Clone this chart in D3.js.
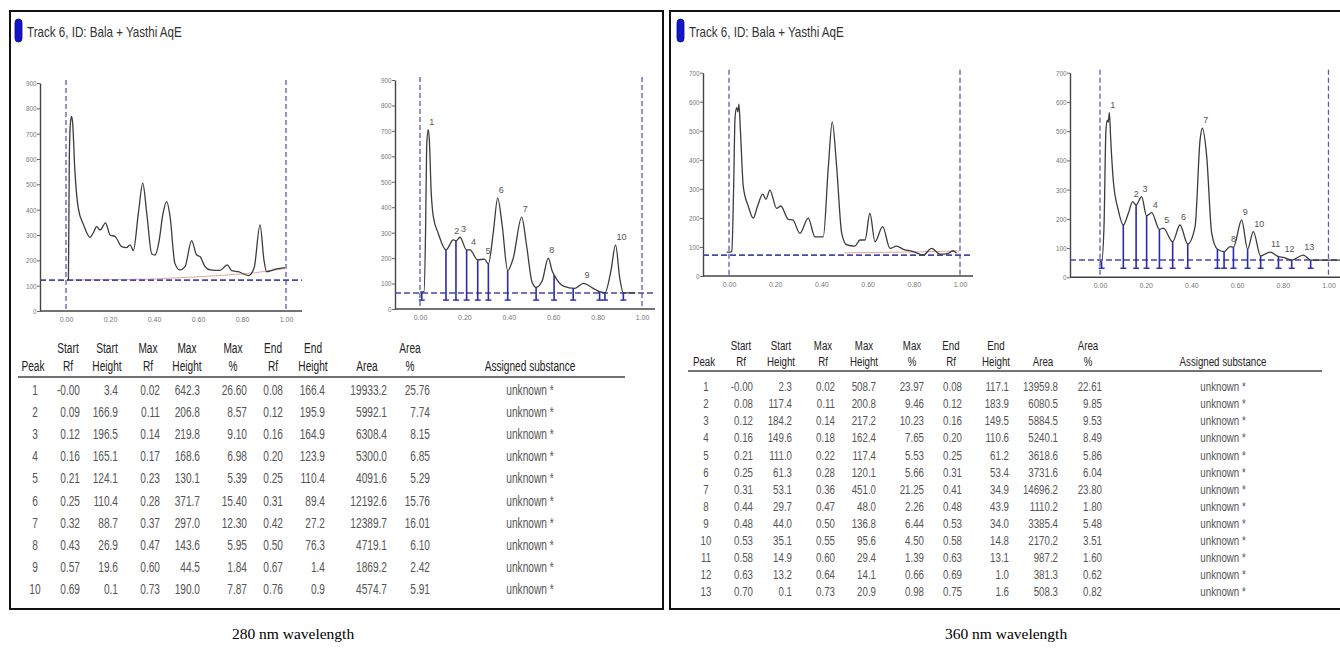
<!DOCTYPE html>
<html>
<head>
<meta charset="utf-8">
<script src="https://cdn.jsdelivr.net/npm/d3@7"></script>
<style>
  html, body { margin: 0; padding: 0; background: #fff; }
  svg { display: block; }
</style>
</head>
<body>
<svg id="fig" width="1340" height="649"></svg>
<script>
// ---- traces: [plot Rf, height (AU)] ----
var raw280 = [[0.005,122],[0.011,125],[0.015,600],[0.02,740],[0.025,768],[0.03,745],[0.04,560],[0.056,405],[0.08,340],[0.109,291],[0.125,310],[0.139,333],[0.155,320],[0.18,348],[0.2,300],[0.223,294],[0.253,254],[0.275,250],[0.291,261],[0.306,238],[0.329,386],[0.349,505],[0.367,386],[0.39,225],[0.405,221],[0.424,281],[0.44,380],[0.458,432],[0.473,373],[0.495,188],[0.518,162],[0.541,175],[0.571,278],[0.594,221],[0.609,215],[0.632,175],[0.655,162],[0.7,160],[0.733,182],[0.753,159],[0.783,155],[0.829,140],[0.855,170],[0.882,340],[0.9,200],[0.912,155],[0.957,166],[0.995,171]]
var pink280 = [[0,122],[0.4,126],[0.7,140],[0.85,150],[1.0,168]]
var cor280 = [[0.0,66],[0.018,68],[0.025,300],[0.03,640],[0.037,705],[0.042,665],[0.05,468],[0.06,363],[0.082,298],[0.117,232],[0.15,272],[0.162,268],[0.18,282],[0.21,232],[0.225,232],[0.26,193],[0.29,196],[0.308,177],[0.33,300],[0.35,436],[0.37,330],[0.395,151],[0.42,200],[0.458,361],[0.48,250],[0.505,105],[0.523,85],[0.55,110],[0.578,200],[0.595,150],[0.604,134],[0.646,90],[0.698,81],[0.736,101],[0.78,81],[0.809,68],[0.833,64],[0.86,150],[0.881,252],[0.9,120],[0.916,63],[0.97,63]]
var bounds280 = [[0.008,66],[0.117,232],[0.162,268],[0.21,232],[0.26,193],[0.308,177],[0.395,151],[0.523,85],[0.604,134],[0.69,82],[0.809,68],[0.833,64],[0.916,63]]
var peaks280 = [[0.037,705],[0.15,275],[0.18,282],[0.225,232],[0.29,196],[0.35,436],[0.458,361],[0.578,200],[0.736,101],[0.881,252]]

var raw360 = [[-0.01,82],[0.005,82],[0.012,85],[0.02,300],[0.026,543],[0.033,580],[0.038,565],[0.043,592],[0.05,491],[0.062,307],[0.084,239],[0.105,199],[0.123,239],[0.146,282],[0.16,264],[0.177,296],[0.206,233],[0.224,241],[0.257,195],[0.276,193],[0.307,147],[0.343,199],[0.372,135],[0.408,135],[0.43,376],[0.447,531],[0.466,376],[0.488,147],[0.51,107],[0.545,103],[0.567,124],[0.589,124],[0.61,216],[0.632,118],[0.665,170],[0.697,95],[0.726,103],[0.755,92],[0.798,84],[0.841,72],[0.877,95],[0.913,75],[0.949,78],[0.971,87],[0.985,78]]
var pink360 = [[0.5,80],[0.75,82],[1.0,86]]
var cor360 = [[0.0,55],[0.007,53],[0.0175,173],[0.026,504],[0.032,538],[0.036,530],[0.041,563],[0.047,470],[0.058,333],[0.08,230],[0.102,179],[0.124,219],[0.143,259],[0.158,247],[0.182,276],[0.204,210],[0.226,221],[0.26,164],[0.277,168],[0.318,122],[0.35,179],[0.384,114],[0.416,173],[0.438,470],[0.448,510],[0.467,413],[0.489,150],[0.514,96],[0.543,88],[0.569,105],[0.584,103],[0.62,196],[0.646,96],[0.671,156],[0.703,73],[0.744,86],[0.781,71],[0.803,68],[0.839,59],[0.89,76],[0.922,59],[1.06,59]]
var bounds360 = [[0.007,53],[0.102,179],[0.158,247],[0.204,210],[0.26,164],[0.318,122],[0.384,114],[0.514,96],[0.543,88],[0.584,103],[0.646,96],[0.703,73],[0.781,71],[0.839,59],[0.922,59]]
var peaks360 = [[0.041,563],[0.143,259],[0.182,276],[0.226,221],[0.277,168],[0.35,179],[0.448,510],[0.569,105],[0.62,196],[0.671,156],[0.744,86],[0.803,68],[0.89,76]]

var xTicks = [0, 0.2, 0.4, 0.6, 0.8, 1.0]

// ---- peak tables ----
var t280 = {
  peak:     ["1","2","3","4","5","6","7","8","9","10"],
  startRf:  ["-0.00","0.09","0.12","0.16","0.21","0.25","0.32","0.43","0.57","0.69"],
  startH:   ["3.4","166.9","196.5","165.1","124.1","110.4","88.7","26.9","19.6","0.1"],
  maxRf:    ["0.02","0.11","0.14","0.17","0.23","0.28","0.37","0.47","0.60","0.73"],
  maxH:     ["642.3","206.8","219.8","168.6","130.1","371.7","297.0","143.6","44.5","190.0"],
  maxPct:   ["26.60","8.57","9.10","6.98","5.39","15.40","12.30","5.95","1.84","7.87"],
  endRf:    ["0.08","0.12","0.16","0.20","0.25","0.31","0.42","0.50","0.67","0.76"],
  endH:     ["166.4","195.9","164.9","123.9","110.4","89.4","27.2","76.3","1.4","0.9"],
  area:     ["19933.2","5992.1","6308.4","5300.0","4091.6","12192.6","12389.7","4719.1","1869.2","4574.7"],
  areaPct:  ["25.76","7.74","8.15","6.85","5.29","15.76","16.01","6.10","2.42","5.91"]
}
var t360 = {
  peak:     ["1","2","3","4","5","6","7","8","9","10","11","12","13"],
  startRf:  ["-0.00","0.08","0.12","0.16","0.21","0.25","0.31","0.44","0.48","0.53","0.58","0.63","0.70"],
  startH:   ["2.3","117.4","184.2","149.6","111.0","61.3","53.1","29.7","44.0","35.1","14.9","13.2","0.1"],
  maxRf:    ["0.02","0.11","0.14","0.18","0.22","0.28","0.36","0.47","0.50","0.55","0.60","0.64","0.73"],
  maxH:     ["508.7","200.8","217.2","162.4","117.4","120.1","451.0","48.0","136.8","95.6","29.4","14.1","20.9"],
  maxPct:   ["23.97","9.46","10.23","7.65","5.53","5.66","21.25","2.26","6.44","4.50","1.39","0.66","0.98"],
  endRf:    ["0.08","0.12","0.16","0.20","0.25","0.31","0.41","0.48","0.53","0.58","0.63","0.69","0.75"],
  endH:     ["117.1","183.9","149.5","110.6","61.2","53.4","34.9","43.9","34.0","14.8","13.1","1.0","1.6"],
  area:     ["13959.8","6080.5","5884.5","5240.1","3618.6","3731.6","14696.2","1110.2","3385.4","2170.2","987.2","381.3","508.3"],
  areaPct:  ["22.61","9.85","9.53","8.49","5.86","6.04","23.80","1.80","5.48","3.51","1.60","0.62","0.82"]
}
var substance = "unknown *"
var titleText = "Track 6, ID: Bala + Yasthi AqE"
var captions = ["280 nm wavelength", "360 nm wavelength"]

var cols = [
  {key:"peak",    h1:"",      h2:"Peak"},
  {key:"startRf", h1:"Start", h2:"Rf"},
  {key:"startH",  h1:"Start", h2:"Height"},
  {key:"maxRf",   h1:"Max",   h2:"Rf"},
  {key:"maxH",    h1:"Max",   h2:"Height"},
  {key:"maxPct",  h1:"Max",   h2:"%"},
  {key:"endRf",   h1:"End",   h2:"Rf"},
  {key:"endH",    h1:"End",   h2:"Height"},
  {key:"area",    h1:"",      h2:"Area"},
  {key:"areaPct", h1:"Area",  h2:"%"},
  {key:"subst",   h1:"",      h2:"Assigned substance"}
]

var svg = d3.select("#fig")
var FONT = "'Liberation Sans', Arial, sans-serif"

function txt(g, x, y, s, o) {
  o = o || {}
  return g.append("text")
    .attr("transform", "translate(" + x + "," + y + ") scale(" + (o.sx || 1) + ",1)")
    .attr("text-anchor", o.anchor || "start")
    .attr("dominant-baseline", "central")
    .style("font-family", o.font || FONT)
    .style("font-size", (o.size || 10) + "px")
    .style("fill", o.fill || "#333")
    .text(s)
}

function drawChart(g, c) {
  var x = d3.scaleLinear().domain([0, 1]).range([c.x0, c.x1]),
      y = d3.scaleLinear().domain([0, c.yMax]).range([c.y0, c.yTop])

  // vertical dashed application/front lines
  g.selectAll(".vl").data([0, 1]).enter().append("line")
    .attr("x1", d => x(d)).attr("x2", d => x(d))
    .attr("y1", c.yTop - 3).attr("y2", c.y0)
    .attr("stroke", "#5a5ab8").attr("stroke-width", 1.3).attr("stroke-dasharray", "5,3")

  // y axis
  var ya = g.append("g").attr("transform", "translate(" + c.axL + ",0)")
    .call(d3.axisLeft(y).tickValues(d3.range(0, c.yMax + 1, 100)).tickSize(3).tickSizeOuter(0).tickPadding(1))
  ya.select(".domain").attr("stroke", "#444").attr("stroke-width", 1.4)
  ya.selectAll(".tick line").attr("stroke", "#666")
  ya.selectAll(".tick text").style("font-family", FONT).style("font-size", "7.5px").style("fill", "#777")
    .attr("transform", "scale(0.85,1)")

  // x axis
  var xa = g.append("g").attr("transform", "translate(0," + c.y0 + ")")
    .call(d3.axisBottom(x).tickValues(xTicks).tickFormat(d3.format(".2f")).tickSize(0).tickPadding(6))
  xa.select(".domain").remove()
  xa.selectAll(".tick text").style("font-family", FONT).style("font-size", "7px").style("fill", "#777")
  g.append("line").attr("x1", c.axL).attr("x2", c.axR).attr("y1", c.y0).attr("y2", c.y0)
    .attr("stroke", "#444").attr("stroke-width", 1.4)

  // pink baseline
  if (c.pink) {
    g.append("path").datum(c.pink)
      .attr("d", d3.line().x(d => x(d[0])).y(d => y(d[1])))
      .attr("fill", "none").attr("stroke", "#e6a3a3").attr("stroke-width", 1)
  }

  // dashed baseline level
  g.append("line").attr("x1", c.axL).attr("x2", c.axR)
    .attr("y1", y(c.base)).attr("y2", y(c.base))
    .attr("stroke", "#4848a8").attr("stroke-width", 1.6).attr("stroke-dasharray", "6,3")

  // peak boundaries
  if (c.bounds) {
    var b = g.selectAll(".bd").data(c.bounds).enter().append("g")
    b.append("line")
      .attr("x1", d => x(d[0])).attr("x2", d => x(d[0]))
      .attr("y1", y(c.mark)).attr("y2", d => y(d[1]))
      .attr("stroke", "#2a2ab0").attr("stroke-width", 1.6)
    b.append("line")
      .attr("x1", d => x(d[0]) - 3).attr("x2", d => x(d[0]) + 3)
      .attr("y1", y(c.mark)).attr("y2", y(c.mark))
      .attr("stroke", "#2a2ab0").attr("stroke-width", 1.4)
  }

  // trace
  g.append("path").datum(c.trace)
    .attr("d", d3.line().x(d => x(d[0])).y(d => y(d[1])).curve(d3.curveMonotoneX))
    .attr("fill", "none").attr("stroke", "#3c3c3c").attr("stroke-width", 1.3)

  if (c.peaks) {
    g.selectAll(".pl").data(c.peaks).enter().append("text")
      .attr("x", d => x(d[0]) + 1).attr("y", d => y(d[1]) - 5)
      .style("font-family", FONT).style("font-size", "9px").style("fill", "#555")
      .text((d, i) => i + 1)
  }
}

function drawTable(g, t, L) {
  var rowsN = t.peak.length
  cols.forEach(function(c, j) {
    if (c.h1) txt(g, L.hx[j], L.h1y, c.h1, {size: L.size, anchor: "middle", fill: "#222", sx: L.sx})
    txt(g, L.hx[j], L.h2y, c.h2, {size: L.size, anchor: "middle", fill: "#222", sx: L.sx})
    for (var i = 0; i < rowsN; i++) {
      var v = c.key == "subst" ? substance : t[c.key][i]
      var anchor = (c.key == "peak" || c.key == "subst") ? "middle" : "end"
      txt(g, L.vx[j], L.r0 + i * L.dr, v, {size: L.size, anchor: anchor, fill: "#555", sx: L.sx})
    }
  })
  g.append("line").attr("x1", L.lx[0]).attr("x2", L.lx[1]).attr("y1", L.ly).attr("y2", L.ly)
    .attr("stroke", "#444").attr("stroke-width", 1.5)
}

// ---- panel frames ----
svg.append("rect").attr("x", 10).attr("y", 11).attr("width", 653).attr("height", 598)
  .attr("fill", "#fff").attr("stroke", "#111").attr("stroke-width", 2)
svg.append("rect").attr("x", 670).attr("y", 11).attr("width", 690).attr("height", 598)
  .attr("fill", "#fff").attr("stroke", "#111").attr("stroke-width", 2)

// titles
;[[15, 27], [677, 689]].forEach(function(p) {
  svg.append("rect").attr("x", p[0]).attr("y", 19).attr("width", 7).attr("height", 23).attr("rx", 3.5)
    .attr("fill", "#1414c8").attr("stroke", "#0a0a80").attr("stroke-width", 0.8)
  txt(svg, p[1], 32, titleText, {size: 14.5, fill: "#333", sx: 0.8})
})

// ---- 280 nm panel ----
var gA = svg.append("g")
drawChart(gA, {x0: 66, x1: 286, axL: 40, axR: 302, y0: 311, yTop: 83, yMax: 900, trace: raw280, pink: pink280, base: 122})
drawChart(gA, {x0: 420, x1: 642, axL: 395, axR: 655, y0: 309, yTop: 80, yMax: 900, trace: cor280, base: 63, mark: 35, bounds: bounds280, peaks: peaks280})
drawTable(gA, t280, {
  size: 14.5, sx: 0.7, h1y: 348, h2y: 366, ly: 377, lx: [18, 625], r0: 390, dr: 22.2,
  hx: [33, 68, 107, 148, 187, 233, 273, 313, 367, 410, 530],
  vx: [35, 80, 118, 160, 200, 247, 283, 325, 387, 430, 530]
})

// ---- 360 nm panel ----
var gB = svg.append("g")
drawChart(gB, {x0: 729, x1: 960, axL: 703, axR: 973, y0: 276, yTop: 72.7, yMax: 700, trace: raw360, pink: pink360, base: 72})
drawChart(gB, {x0: 1100, x1: 1328.5, axL: 1070, axR: 1340, y0: 277.3, yTop: 72.7, yMax: 700, trace: cor360, base: 59, mark: 31, bounds: bounds360, peaks: peaks360})
drawTable(gB, t360, {
  size: 13.5, sx: 0.72, h1y: 345, h2y: 361, ly: 371, lx: [688, 1322], r0: 386, dr: 17.1,
  hx: [704, 741, 781, 823, 864, 912, 951, 996, 1043, 1088, 1223],
  vx: [706, 753, 792, 835, 876, 924, 962, 1009, 1058, 1102, 1223]
})

// captions
txt(svg, 293, 633, captions[0], {size: 15.5, anchor: "middle", fill: "#000", font: "'Liberation Serif', 'Times New Roman', serif"})
txt(svg, 1006, 633, captions[1], {size: 15.5, anchor: "middle", fill: "#000", font: "'Liberation Serif', 'Times New Roman', serif"})
</script>
</body>
</html>
